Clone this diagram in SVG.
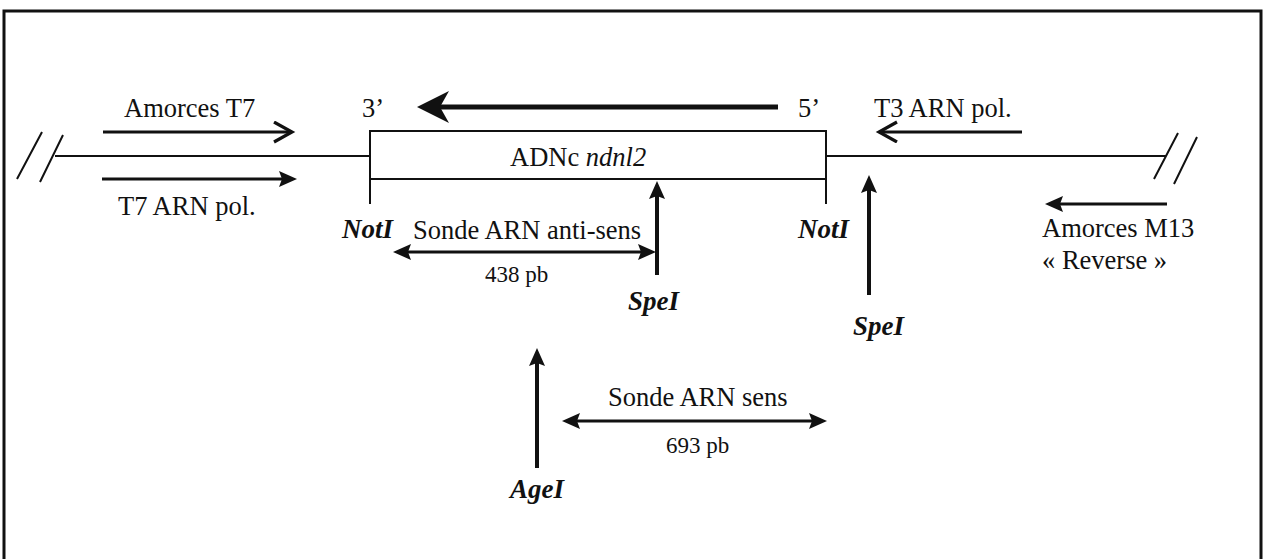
<svg xmlns="http://www.w3.org/2000/svg" width="1265" height="559" viewBox="0 0 1265 559">
  <style>
    text { font-family: "Liberation Serif", "Times New Roman", serif; fill: #111; }
    .lbl { font-size: 26.5px; }
    .small { font-size: 23px; }
    .enz { font-size: 27px; font-weight: bold; font-style: italic; }
    .it { font-style: italic; }
    .thin { stroke: #111; stroke-width: 2; fill: none; }
    .arr { stroke: #111; stroke-width: 3; fill: none; }
    .site { stroke: #111; stroke-width: 4; fill: none; }
  </style>
  <defs>
    <!-- filled arrowhead; tip sits 14px beyond the line end -->
    <marker id="head" markerUnits="userSpaceOnUse" markerWidth="20" markerHeight="18" refX="4" refY="8" orient="auto-start-reverse" viewBox="0 0 20 18">
      <path d="M0,0 L18,8 L0,16 L3,8 Z" fill="#111"/>
    </marker>
    <!-- open chevron arrowhead -->
    <marker id="chev" markerUnits="userSpaceOnUse" markerWidth="24" markerHeight="26" refX="19" refY="11" orient="auto" viewBox="0 0 24 26">
      <path d="M1,1 L19,11 L1,21" fill="none" stroke="#111" stroke-width="3.2"/>
    </marker>
  </defs>

  <!-- outer frame -->
  <rect x="4" y="11" width="1257" height="560" fill="none" stroke="#111" stroke-width="3"/>

  <g id="connectors">
    <!-- vector backbone with break marks -->
    <path class="thin" d="M55,156 H370 M826,156 H1166"/>
    <path class="thin" d="M17,179 L42,132 M40,182 L63,135"/>
    <path class="thin" d="M1154,179 L1178,133 M1174,184 L1197,137"/>

    <!-- primers / promoters -->
    <line class="arr" x1="103" y1="132" x2="292" y2="132" marker-end="url(#chev)"/>
    <line class="arr" x1="102" y1="179" x2="283" y2="179" marker-end="url(#head)"/>
    <line class="arr" x1="1022" y1="132" x2="879" y2="132" marker-end="url(#chev)"/>
    <line class="arr" x1="1167" y1="204" x2="1059" y2="204" marker-end="url(#head)"/>

    <!-- transcription direction -->
    <line x1="778" y1="107" x2="436" y2="107" stroke="#111" stroke-width="5"/>
    <path d="M417,107 L449,91 L440,107 L449,123 Z" fill="#111"/>

    <!-- restriction sites -->
    <line class="site" x1="657" y1="275" x2="657" y2="195" marker-end="url(#head)"/>
    <line class="site" x1="869" y1="295" x2="869" y2="189" marker-end="url(#head)"/>
    <line class="site" x1="537" y1="468" x2="537" y2="362" marker-end="url(#head)"/>

    <!-- probe spans -->
    <line class="arr" x1="407" y1="252" x2="642" y2="252" marker-start="url(#head)" marker-end="url(#head)"/>
    <line class="arr" x1="576" y1="421" x2="813" y2="421" marker-start="url(#head)" marker-end="url(#head)"/>
  </g>

  <g id="insert">
    <path class="thin" d="M370,204 V131 H826 V204 M370,179 H826"/>
    <text class="lbl" x="510" y="166">ADNc <tspan class="it">ndnl2</tspan></text>
    <text class="lbl" x="362" y="117">3’</text>
    <text class="lbl" x="798" y="117">5’</text>
  </g>

  <g id="t7-primer"><text class="lbl" x="124" y="117">Amorces T7</text></g>
  <g id="t7-pol"><text class="lbl" x="118" y="215">T7 ARN pol.</text></g>
  <g id="t3-pol"><text class="lbl" x="874" y="117">T3 ARN pol.</text></g>
  <g id="m13-primer">
    <text class="lbl" x="1042" y="237">Amorces M13</text>
    <text class="lbl" x="1042" y="269">« Reverse »</text>
  </g>

  <g id="noti-left"><text class="enz" x="342" y="238">NotI</text></g>
  <g id="noti-right"><text class="enz" x="798" y="238">NotI</text></g>
  <g id="spei-inner"><text class="enz" x="628" y="310">SpeI</text></g>
  <g id="spei-outer"><text class="enz" x="853" y="335">SpeI</text></g>
  <g id="agei"><text class="enz" x="510" y="498">AgeI</text></g>

  <g id="probe-antisense">
    <text class="lbl" x="413" y="239">Sonde ARN anti-sens</text>
    <text class="small" x="485" y="282">438 pb</text>
  </g>
  <g id="probe-sense">
    <text class="lbl" x="608" y="406">Sonde ARN sens</text>
    <text class="small" x="666" y="453">693 pb</text>
  </g>
</svg>
